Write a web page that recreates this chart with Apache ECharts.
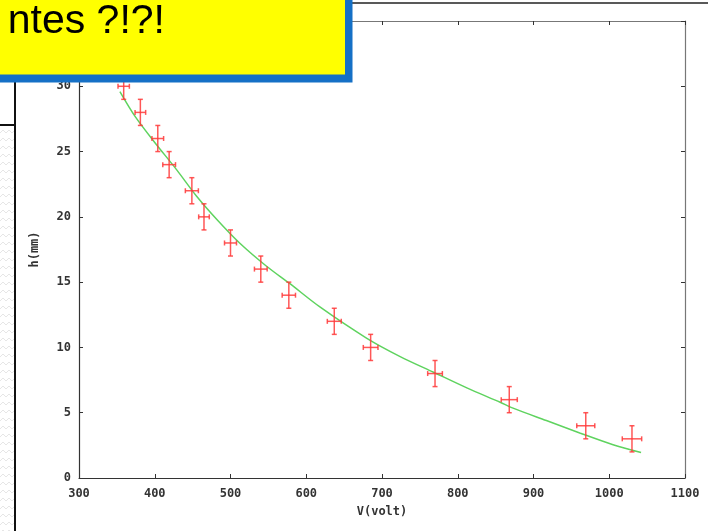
<!DOCTYPE html>
<html>
<head>
<meta charset="utf-8">
<script src="https://cdn.jsdelivr.net/npm/echarts@6/dist/echarts.min.js"></script>
<style>
  html, body { margin: 0; padding: 0; background: #fff; }
  #chart { width: 708px; height: 531px; }
</style>
</head>
<body>
<div id="chart"></div>
<script>
// Measured points: voltage V (volt) against height h (mm), with uncertainties
var voltage   = [359, 381, 404, 419, 449, 465, 500, 540, 577, 637, 685, 770, 868, 969, 1030];
var height    = [30, 28, 26, 24, 22, 20, 18, 16, 14, 12, 10, 8, 6, 4, 3];
var voltErr   = [7.5, 7, 7.7, 8.4, 8.6, 7, 7.9, 8.4, 8.8, 9.2, 9.7, 9.7, 10.6, 11.9, 12.8];
var heightErr = [1, 1, 1, 1, 1, 1, 1, 1, 1, 1, 1, 1, 1, 1, 1];

// Fitted curve h(V)
var fitVoltage = [354, 374, 400, 429, 455, 482, 512, 548, 578, 618, 680, 724, 768, 812, 856, 873, 917, 961, 1005, 1042];
var fitHeight  = [29.6, 27.7, 25.7, 23.6, 21.6, 19.8, 18.0, 16.2, 14.9, 13.1, 10.7, 9.3, 8.1, 6.9, 5.8, 5.35, 4.4, 3.45, 2.55, 1.95];

// Axis settings
var xMin = 300, xMax = 1100, xStep = 100;
var yMin = 0, yMax = 35, yStep = 5;
var xTitle = 'V(volt)';
var yTitle = 'h(mm)';
var bannerText = 'ntes ?!?!';

var chart = echarts.init(document.getElementById('chart'), null, { renderer: 'canvas' });

var pointData = voltage.map(function (v, i) {
  return [v, height[i], voltErr[i], heightErr[i]];
});
var fitData = fitVoltage.map(function (v, i) { return [v, fitHeight[i]]; });

// Light zigzag texture for the side panel
function zigzagPattern() {
  var c = document.createElement('canvas');
  c.width = 12; c.height = 8;
  var g = c.getContext('2d');
  g.fillStyle = '#ffffff';
  g.fillRect(0, 0, 12, 8);
  g.strokeStyle = '#e6e6e6';
  g.lineWidth = 1;
  g.beginPath();
  g.moveTo(0, 5); g.lineTo(3, 2); g.lineTo(6, 5); g.lineTo(9, 2); g.lineTo(12, 5);
  g.stroke();
  return c;
}

var tickFont = { fontFamily: 'DejaVu Sans Mono', fontWeight: 'bold', fontSize: 12, color: '#333' };
var plainNumber = function (v) { return String(v); };

function errorBars(params, api) {
  var x = api.value(0), y = api.value(1), dx = api.value(2), dy = api.value(3);
  var c = api.coord([x, y]);
  var l = api.coord([x - dx, y]), r = api.coord([x + dx, y]);
  var t = api.coord([x, y + dy]), b = api.coord([x, y - dy]);
  var cap = 2.5;
  var st = { stroke: '#ff3a3a', lineWidth: 1.5, opacity: 0.85 };
  var seg = function (x1, y1, x2, y2) {
    return { type: 'line', shape: { x1: x1, y1: y1, x2: x2, y2: y2 }, style: st };
  };
  return {
    type: 'group',
    children: [
      seg(c[0], t[1], c[0], b[1]),
      seg(c[0] - cap, t[1], c[0] + cap, t[1]),
      seg(c[0] - cap, b[1], c[0] + cap, b[1]),
      seg(l[0], c[1], r[0], c[1]),
      seg(l[0], c[1] - cap, l[0], c[1] + cap),
      seg(r[0], c[1] - cap, r[0], c[1] + cap)
    ]
  };
}

var option = {
  backgroundColor: '#ffffff',
  animation: false,
  grid: { left: 79, right: 23, top: 21, bottom: 53 },
  xAxis: [{
    type: 'value', min: xMin, max: xMax, interval: xStep, position: 'bottom',
    name: xTitle, nameLocation: 'middle', nameGap: 28,
    nameTextStyle: tickFont,
    axisLine: { onZero: false, lineStyle: { color: '#333', width: 1.2 } },
    axisTick: { inside: true, length: 4, lineStyle: { color: '#333' } },
    axisLabel: Object.assign({ margin: 10, formatter: plainNumber }, tickFont),
    splitLine: { show: false }
  }, {
    type: 'value', min: xMin, max: xMax, interval: xStep, position: 'top',
    axisLine: { onZero: false, lineStyle: { color: '#777', width: 1.2 } },
    axisTick: { inside: true, length: 4, lineStyle: { color: '#333' } },
    axisLabel: { show: false },
    splitLine: { show: false }
  }],
  yAxis: [{
    type: 'value', min: yMin, max: yMax, interval: yStep, position: 'left',
    name: yTitle, nameLocation: 'middle', nameGap: 38, nameRotate: 90,
    nameTextStyle: tickFont,
    axisLine: { show: true, onZero: false, lineStyle: { color: '#333', width: 1.2 } },
    axisTick: { show: true, inside: true, length: 4, lineStyle: { color: '#333' } },
    axisLabel: Object.assign({ margin: 8, formatter: plainNumber }, tickFont),
    splitLine: { show: false }
  }, {
    type: 'value', min: yMin, max: yMax, interval: yStep, position: 'right',
    axisLine: { show: true, onZero: false, lineStyle: { color: '#777', width: 1.2 } },
    axisTick: { show: true, inside: true, length: 4, lineStyle: { color: '#333' } },
    axisLabel: { show: false },
    splitLine: { show: false }
  }],
  series: [{
    type: 'line',
    data: fitData,
    smooth: 0.3,
    symbol: 'none',
    lineStyle: { color: '#5fd35f', width: 1.5 },
    z: 2
  }, {
    type: 'custom',
    data: pointData,
    renderItem: errorBars,
    encode: { x: 0, y: 1 },
    z: 3
  }],
  graphic: [
    // side panel of the slide
    { type: 'rect', z: 90, shape: { x: 0, y: 125, width: 14, height: 410 },
      style: { fill: { image: zigzagPattern(), repeat: 'repeat' } } },
    { type: 'line', z: 91, shape: { x1: 15, y1: 82, x2: 15, y2: 531 },
      style: { stroke: '#111', lineWidth: 2 } },
    { type: 'line', z: 91, shape: { x1: 0, y1: 125, x2: 15, y2: 125 },
      style: { stroke: '#111', lineWidth: 2 } },
    // top rule of the slide
    { type: 'line', z: 91, shape: { x1: 350, y1: 3, x2: 708, y2: 3 },
      style: { stroke: '#222', lineWidth: 1.6 } },
    // callout box
    { type: 'rect', z: 100, shape: { x: -10, y: -10, width: 362.5, height: 92.5 },
      style: { fill: '#1570c6' } },
    { type: 'rect', z: 101, shape: { x: -10, y: -10, width: 355, height: 84.5 },
      style: { fill: '#ffff00' } },
    { type: 'text', z: 102, x: 165, y: 42,
      style: { text: bannerText, fill: '#000', font: '41px "Liberation Sans", Arial, sans-serif',
               align: 'right', verticalAlign: 'bottom' } }
  ]
};

chart.setOption(option);
</script>
</body>
</html>
